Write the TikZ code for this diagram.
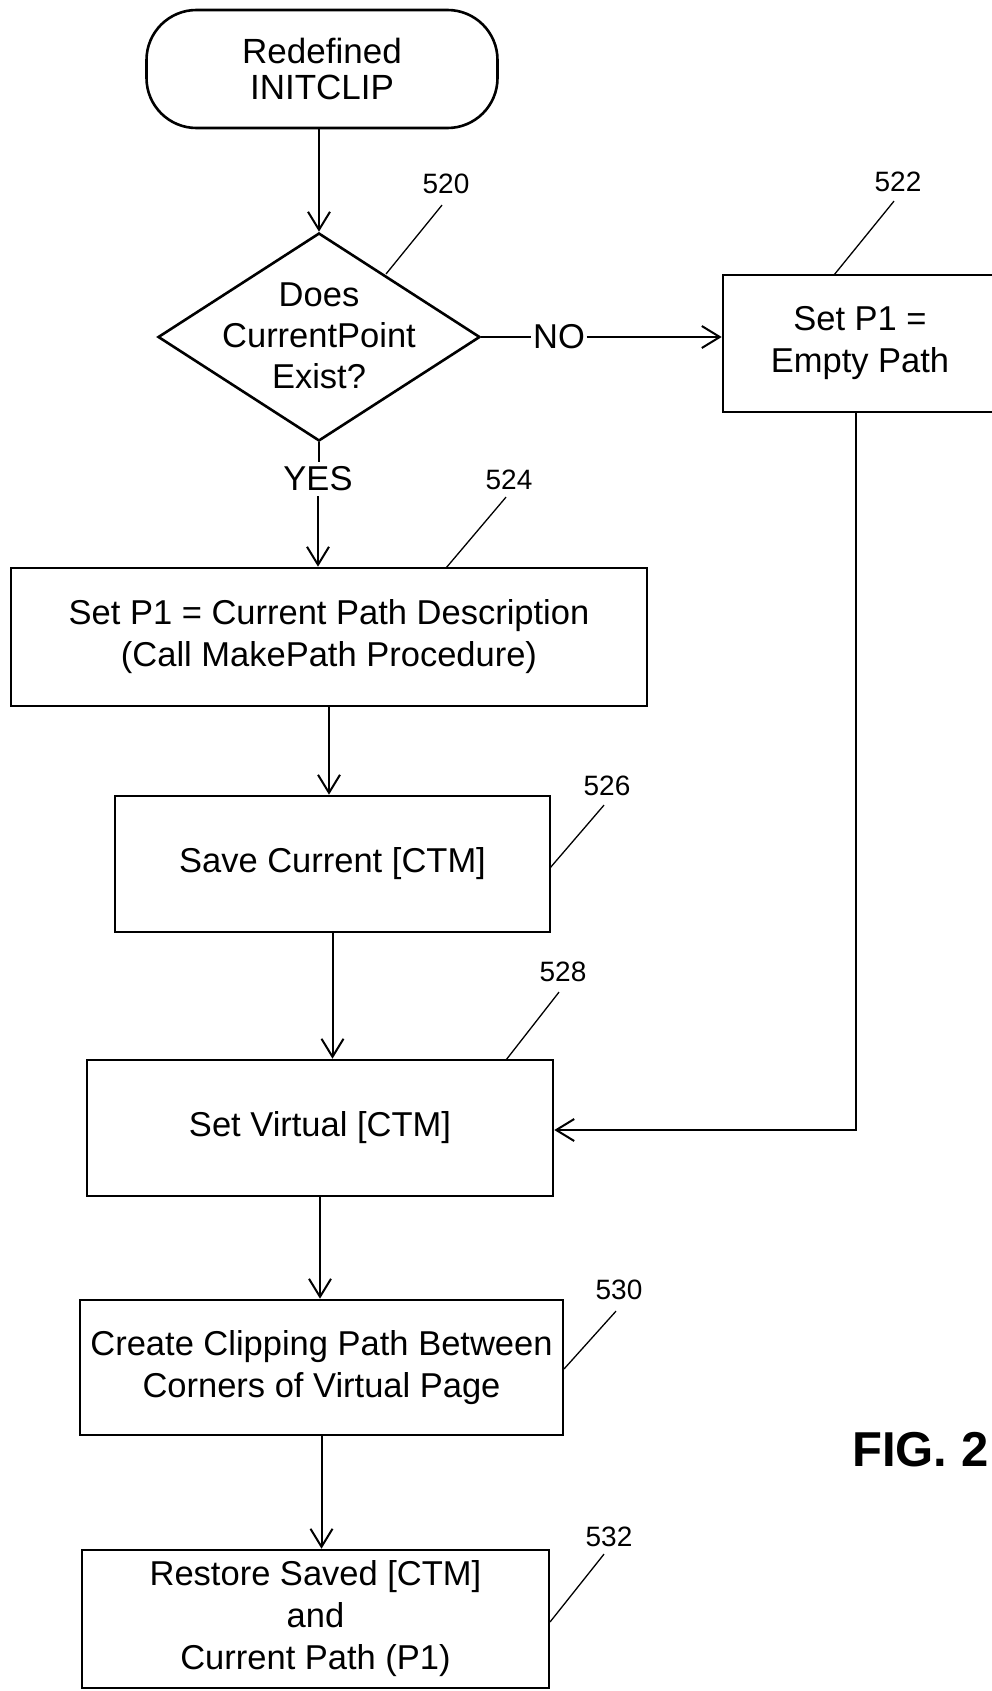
\documentclass[tikz,border=0pt]{standalone}
\usepackage{fontspec}
\setmainfont{Liberation Sans}
\usetikzlibrary{arrows.meta,shapes.geometric,calc}
\begin{document}
\begin{tikzpicture}[x=1pt,y=-1pt,
  box/.style={draw,line width=2.6pt,rectangle,inner sep=0pt,align=center,font=\fontsize{34.5}{42}\selectfont},
  conn/.style={line width=2pt},
  arr/.style={conn,-{Straight Barb[length=18pt,width=22pt,line width=2pt]}},
  lead/.style={line width=1.3pt},
  ref/.style={font=\fontsize{28}{30}\selectfont,inner sep=1pt},
  lbl/.style={font=\fontsize{34.5}{40}\selectfont},
]
\useasboundingbox (0,0) rectangle (991,1691);
\fill[white] (0,0) rectangle (991,1691);

% nodes
\node[box,rounded corners=50pt,minimum width=351pt,minimum height=118pt,font=\fontsize{35}{36}\selectfont] (term) at (322,69) {Redefined\\INITCLIP};
\node[draw,diamond,line width=2.6pt,minimum width=322pt,minimum height=208pt,inner sep=0pt] (dec) at (319,337) {};
\node[align=center,font=\fontsize{34.5}{41}\selectfont] (dect) at (319,336) {Does\\CurrentPoint\\Exist?};
\node[box,minimum width=274pt,minimum height=137pt] (b522) at (860,343.5) {Set P1 =\\Empty Path};
\node[box,minimum width=636pt,minimum height=138pt] (b524) at (329,637) {Set P1 = Current Path Description\\(Call MakePath Procedure)};
\node[box,minimum width=435pt,minimum height=136pt] (b526) at (332.5,864) {Save Current [CTM]};
\node[box,minimum width=466pt,minimum height=136pt] (b528) at (320,1128) {Set Virtual [CTM]};
\node[box,minimum width=483pt,minimum height=135pt] (b530) at (321.5,1367.5) {Create Clipping Path Between\\Corners of Virtual Page};
\node[box,minimum width=467pt,minimum height=138pt] (b532) at (315.5,1619) {Restore Saved [CTM]\\and\\Current Path (P1)};

\node[lbl,inner sep=5pt] (yes) at (318,479) {YES};
\node[lbl,inner sep=1.5pt] (no) at (559,337) {NO};

\node[anchor=west,font=\bfseries\fontsize{49}{55}\selectfont,inner sep=0pt] (fig) at (852,1450) {FIG. 2};

% reference numerals
\node[ref] (l520) at (446,184) {520};
\node[ref] (l522) at (898,182) {522};
\node[ref] (l524) at (509,480) {524};
\node[ref] (l526) at (607,786) {526};
\node[ref] (l528) at (563,972) {528};
\node[ref] (l530) at (619,1290) {530};
\node[ref] (l532) at (609,1537) {532};

\coordinate (e520) at (386,274);
\coordinate (e522) at (834,275);
\coordinate (e524) at (446,568);
\coordinate (e526) at (550,868);
\coordinate (e528) at (506,1060);
\coordinate (e530) at (564,1369);
\coordinate (e532) at (550,1622);

\draw[lead] ($(l520.south)+(-4,10)$) -- (e520);
\draw[lead] ($(l522.south)+(-4,8)$) -- (e522);
\draw[lead] ($(l524.south)+(-3,6)$) -- (e524);
\draw[lead] ($(l526.south)+(-3,8)$) -- (e526);
\draw[lead] ($(l528.south)+(-4,9)$) -- (e528);
\draw[lead] ($(l530.south)+(-3,10)$) -- (e530);
\draw[lead] ($(l532.south)+(-5,6)$) -- (e532);

% connectors
\draw[arr] (term.south -| dec.north) -- (dec.north);
\draw[conn] (dec.south) -- (dec.south |- yes.north);
\draw[arr] (yes.south) -- (yes.south |- b524.north);
\draw[conn] (dec.east) -- (no.west);
\draw[arr] (no.east) -- (b522.west |- no.east);
\draw[arr] (b524.south) -- (b524.south |- b526.north);
\draw[arr] (b526.south) -- (b526.south |- b528.north);
\draw[arr] (b528.south) -- (b528.south |- b530.north);
\draw[arr] (b530.south) -- (b530.south |- b532.north);
\coordinate (c1) at (856,1130);
\draw[arr] (b522.south -| c1) -- (c1) -- (b528.east |- c1);
\end{tikzpicture}
\end{document}
